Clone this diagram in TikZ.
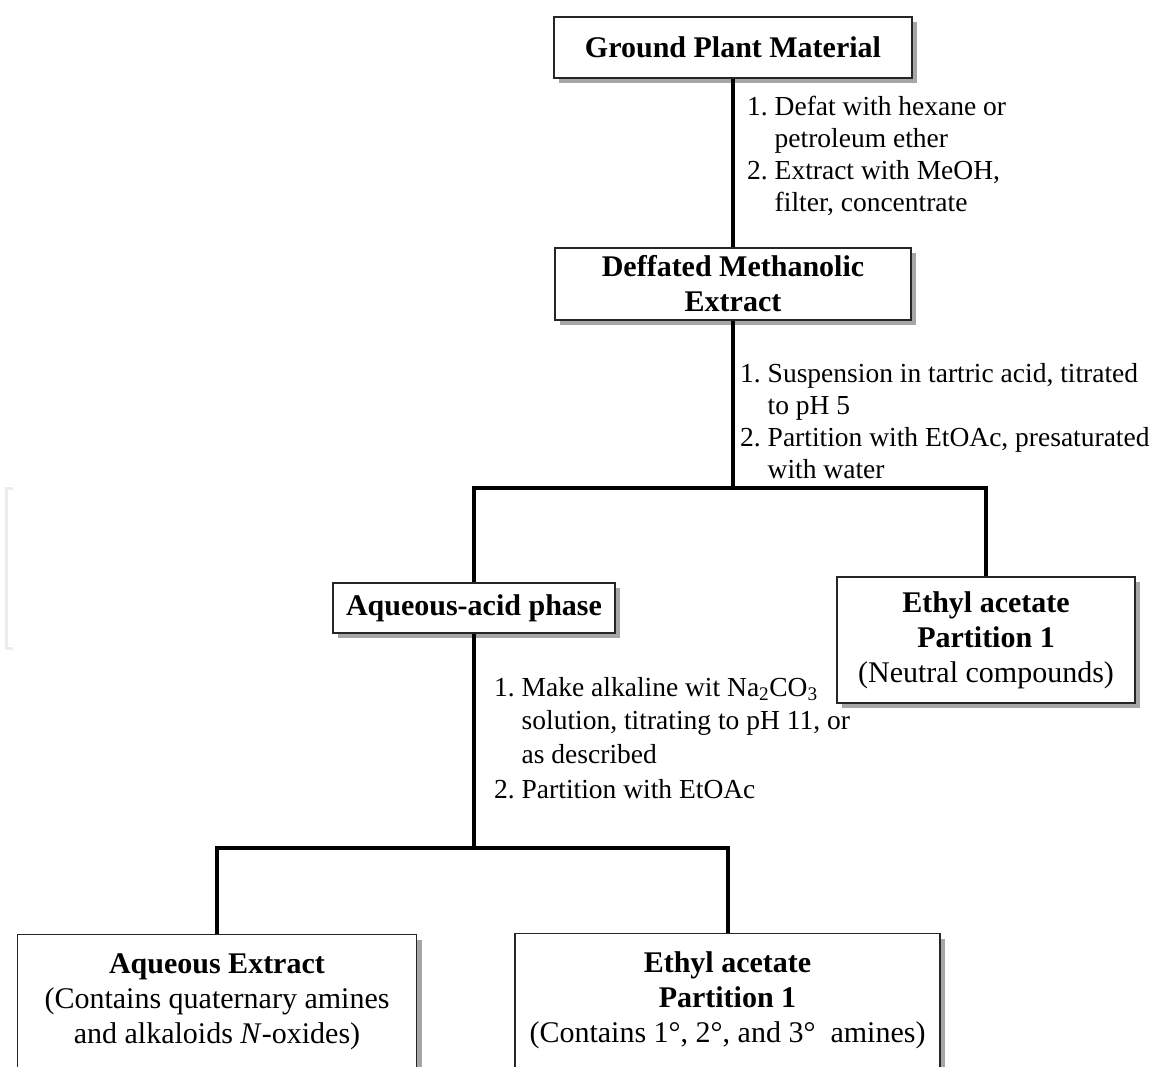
\documentclass[tikz,border=0pt]{standalone}
\usepackage{fontspec}
\setmainfont{Liberation Serif}
\usetikzlibrary{shadows}
\newcommand\boxfont{\fontsize{30}{35}\selectfont}
\newcommand\stepfont{\fontsize{27.5}{32}\selectfont}
\begin{document}
\begin{tikzpicture}[x=1pt,y=-1pt,
  box/.style={draw=black!85, line width=1.2pt, fill=white, inner sep=0pt, align=center, font=\boxfont,
    general shadow={fill=black!35, shadow xshift=5pt, shadow yshift=-5pt}},
  boxtext/.style={anchor=base, inner sep=0pt, font=\boxfont},
  conn/.style={line width=4pt, line join=miter},
  steptext/.style={anchor=base west, inner sep=0pt, font=\stepfont},
  faint/.style={draw=black!7, line width=3pt}]
\useasboundingbox (0,0) rectangle (1156,1067);
\clip (0,0) rectangle (1156,1067);
\fill[white] (0,0) rectangle (1156,1067);

% boxes
\node[box, minimum width=358pt, minimum height=61pt] (gpm) at (733,47.5) {\textbf{Ground Plant Material}};
\node[box, minimum width=356pt, minimum height=72pt] (dme) at (733,284) {\textbf{Deffated Methanolic}\\\textbf{Extract}};
\node[box, minimum width=282pt, minimum height=50pt] (aap) at (474,608) {\textbf{Aqueous-acid phase}};
\node[box, minimum width=298pt, minimum height=126pt] (eap) at (986,640) {\textbf{Ethyl acetate}\\\textbf{Partition 1}\\(Neutral compounds)};
\node[box, minimum width=399pt, minimum height=170pt, anchor=north] (aqx) at (217,934) {};
\node[boxtext] (aqxt) at (217,973) {\begin{tabular}[t]{@{}c@{}}\textbf{Aqueous Extract}\\(Contains quaternary amines\\and alkaloids \textit{N}-oxides)\end{tabular}};
\node[box, minimum width=425pt, minimum height=170pt, anchor=north] (eab) at (727.5,933) {};
\node[boxtext] (eabt) at (727.5,972) {\begin{tabular}[t]{@{}c@{}}\textbf{Ethyl acetate}\\\textbf{Partition 1}\\(Contains 1°, 2°, and 3°\ \ amines)\end{tabular}};

% connectors
\coordinate (j1) at (733,488);
\coordinate (j2) at (474,848);
\draw[conn] (gpm.south) -- (dme.north);
\draw[conn] (dme.south) -- (j1);
\draw[conn] (aap.north) |- (j1) -| (eap.north);
\draw[conn] (aap.south) -- (j2);
\draw[conn] (aqx.north) |- (j2) -| (eab.north);

% step labels
\node[steptext] (s1) at (747,116) {\begin{tabular}[t]{@{}l@{\ }l@{}}1. & Defat with hexane or\\ & petroleum ether\\2. & Extract with MeOH,\\ & filter, concentrate\end{tabular}};
\node[steptext] (s2) at (740,382) {\begin{tabular}[t]{@{}l@{\ }l@{}}1. & Suspension in tartric acid, titrated\\ & to pH 5\\2. & Partition with EtOAc, presaturated\\ & with water\end{tabular}};
\node[steptext, font=\fontsize{27.5}{33.5}\selectfont] (s3) at (494,696) {\begin{tabular}[t]{@{}l@{\ }l@{}}1. & Make alkaline wit Na\textsubscript{2}CO\textsubscript{3}\\ & solution, titrating to pH 11, or\\ & as described\\[2pt]2. & Partition with EtOAc\end{tabular}};

% faint mark at left edge
\draw[faint] (13,488) -- (6,488) -- (6,648) -- (13,648);
\end{tikzpicture}
\end{document}
